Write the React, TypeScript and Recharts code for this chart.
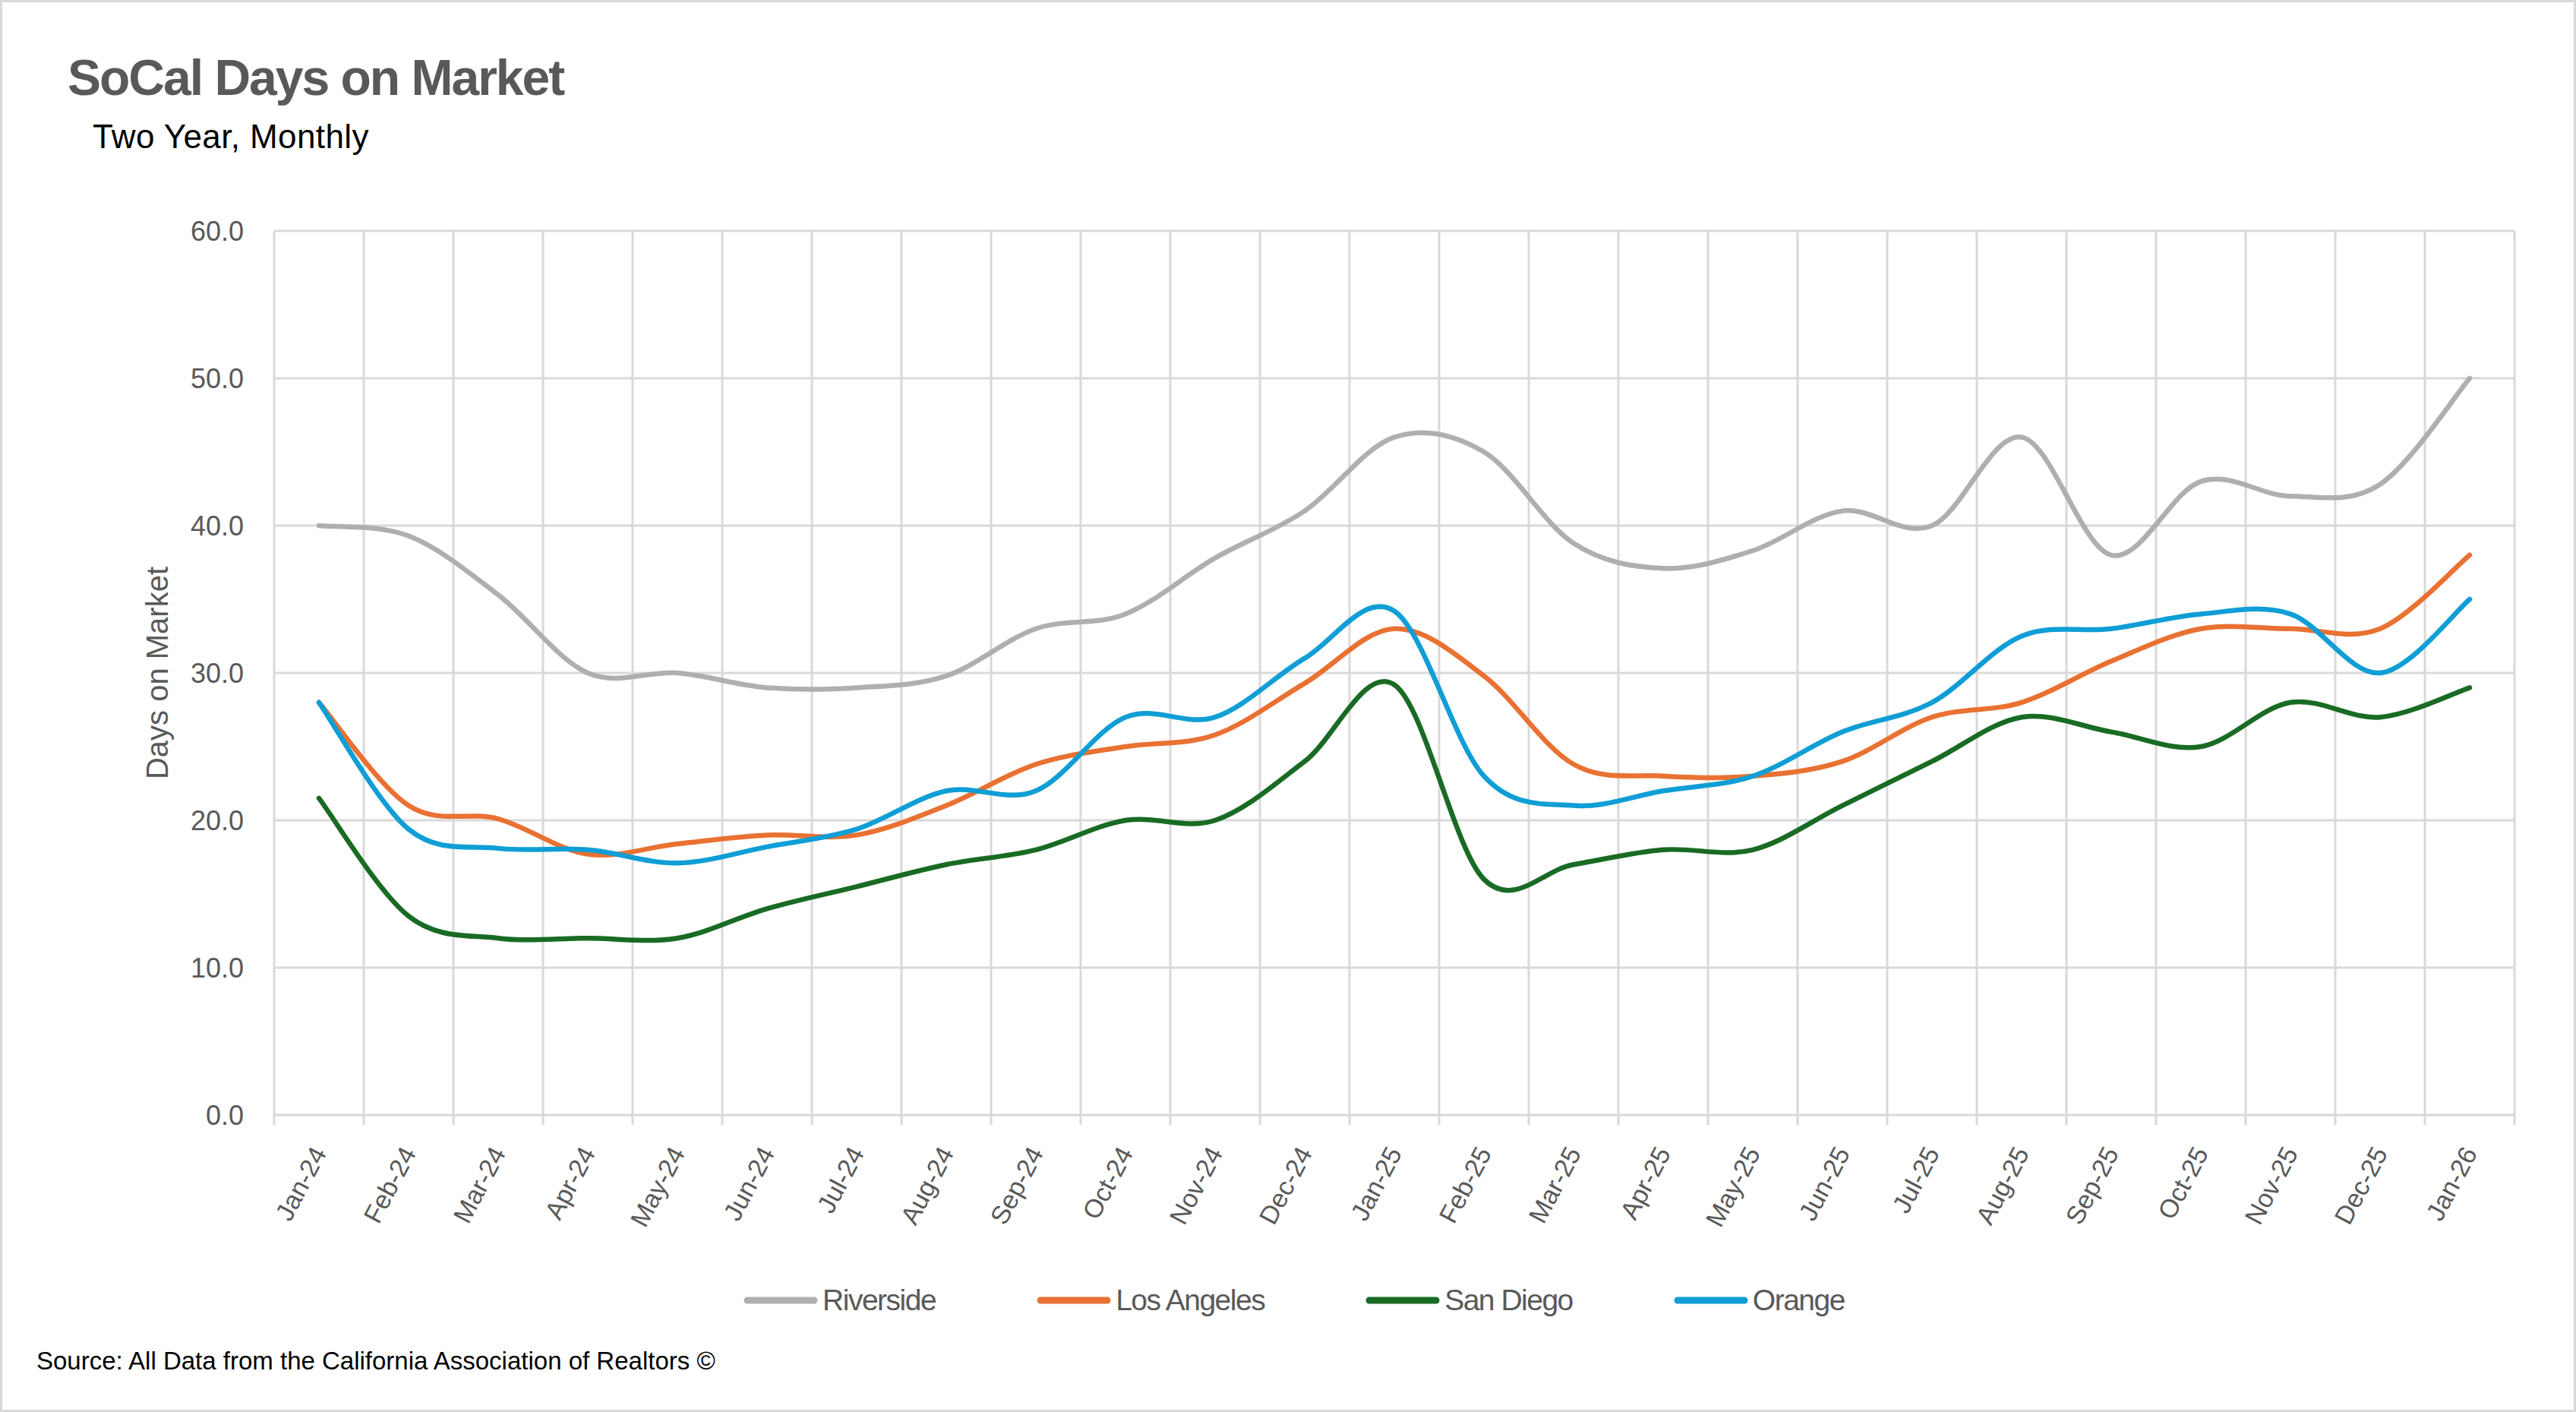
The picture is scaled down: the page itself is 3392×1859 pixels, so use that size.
import React from "react";
import { LineChart, Line, XAxis, YAxis, CartesianGrid, Legend } from "recharts";

const MONTHS = [
  "Jan-24", "Feb-24", "Mar-24", "Apr-24", "May-24", "Jun-24", "Jul-24", "Aug-24",
  "Sep-24", "Oct-24", "Nov-24", "Dec-24", "Jan-25", "Feb-25", "Mar-25", "Apr-25",
  "May-25", "Jun-25", "Jul-25", "Aug-25", "Sep-25", "Oct-25", "Nov-25", "Dec-25", "Jan-26",
];
const RIVERSIDE = [40, 39.3, 35.3, 30, 30, 29, 29, 29.8, 33, 34, 37.8, 41, 46, 45, 38.8, 37.1, 38.3, 41, 40, 46, 38, 43, 42, 42.8, 50];
const LOS_ANGELES = [28, 21, 20.1, 17.7, 18.4, 19, 19, 21, 23.8, 25, 25.8, 29.3, 33, 29.8, 23.8, 23, 23, 24, 27, 28, 30.8, 33, 33, 33, 38];
const SAN_DIEGO = [21.5, 13.5, 12, 12, 12, 14, 15.5, 17, 18, 20, 20, 24, 29.2, 16, 17, 18, 18, 21, 24, 27, 26, 25, 28, 27, 29];
const ORANGE = [28, 19.4, 18.1, 18, 17.1, 18.2, 19.4, 22, 22, 27, 27, 31, 34.2, 23, 21, 22, 23, 26, 28, 32.5, 33, 34, 34, 30, 35];
const Y_TICKS = [0, 10, 20, 30, 40, 50, 60];
const SERIES_ORDER = ["Riverside", "Los Angeles", "San Diego", "Orange"];

const data = MONTHS.map((month, i) => ({
  idx: i,
  month,
  riverside: RIVERSIDE[i],
  losAngeles: LOS_ANGELES[i],
  sanDiego: SAN_DIEGO[i],
  orange: ORANGE[i],
}));

// label ticks sit on the months, grid lines sit between them
const LABEL_TICKS = MONTHS.map((_, i) => i);
const GRID_TICKS = MONTHS.map((_, i) => i - 0.5).concat(MONTHS.length - 0.5);

const W = 3392;
const H = 1859;
const FONT = "'Liberation Sans', Arial, sans-serif";
const GREY_TEXT = "#595959";
const GRID = "#D9D9D9";

// Excel-style smoothed line (Catmull-Rom as cubic beziers)
function excelSmooth(context: any) {
  let pts: [number, number][] = [];
  return {
    areaStart() {},
    areaEnd() {},
    lineStart() {
      pts = [];
    },
    point(x: number, y: number) {
      pts.push([+x, +y]);
    },
    lineEnd() {
      const n = pts.length;
      if (!n) return;
      context.moveTo(pts[0][0], pts[0][1]);
      for (let i = 0; i < n - 1; i++) {
        const p0 = pts[Math.max(i - 1, 0)];
        const p1 = pts[i];
        const p2 = pts[i + 1];
        const p3 = pts[Math.min(i + 2, n - 1)];
        context.bezierCurveTo(
          p1[0] + (p2[0] - p0[0]) / 6,
          p1[1] + (p2[1] - p0[1]) / 6,
          p2[0] - (p3[0] - p1[0]) / 6,
          p2[1] - (p3[1] - p1[1]) / 6,
          p2[0],
          p2[1]
        );
      }
    },
  };
}

function MonthTick({ x, y, payload }: any) {
  const ax = x + 11;
  const ay = y + 49;
  return (
    <text
      x={ax}
      y={ay}
      transform={`rotate(-62, ${ax}, ${ay})`}
      textAnchor="end"
      fill={GREY_TEXT}
      fontSize={34}
      fontFamily={FONT}
    >
      {MONTHS[payload.value]}
    </text>
  );
}

function YTitle({ viewBox }: any) {
  const cx = viewBox.x + 207;
  const cy = viewBox.y + viewBox.height / 2;
  return (
    <text
      x={cx}
      y={cy}
      transform={`rotate(-90, ${cx}, ${cy})`}
      textAnchor="middle"
      dominantBaseline="central"
      fill={GREY_TEXT}
      fontSize={40}
      fontFamily={FONT}
    >
      Days on Market
    </text>
  );
}

function LegendContent({ payload }: any) {
  const items = [...(payload || [])].sort(
    (a: any, b: any) => SERIES_ORDER.indexOf(a.value) - SERIES_ORDER.indexOf(b.value)
  );
  return (
    <div style={{ display: "flex", justifyContent: "center", gap: 133, alignItems: "center", paddingLeft: 16 }}>
      {items.map((p: any) => (
        <div key={p.value} style={{ display: "flex", alignItems: "center" }}>
          <svg width={100} height={12} style={{ marginRight: 4 }}>
            <line x1={5} y1={6} x2={93} y2={6} stroke={p.color} strokeWidth={9} strokeLinecap="round" />
          </svg>
          <span style={{ fontFamily: FONT, fontSize: 39, color: GREY_TEXT, letterSpacing: -1.5 }}>{p.value}</span>
        </div>
      ))}
    </div>
  );
}

export default function App() {
  return (
    <div style={{ position: "relative", width: W, height: H, background: "#fff", overflow: "hidden" }}>
      <style>{`body{margin:0}`}</style>
      <div
        style={{
          position: "absolute",
          left: 89,
          top: 69,
          fontFamily: FONT,
          fontWeight: 700,
          fontSize: 66,
          lineHeight: "66px",
          letterSpacing: -2,
          color: GREY_TEXT,
          whiteSpace: "nowrap",
        }}
      >
        SoCal Days on Market
      </div>
      <div
        style={{
          position: "absolute",
          left: 122,
          top: 158,
          fontFamily: FONT,
          fontSize: 44,
          lineHeight: "44px",
          letterSpacing: 0.4,
          color: "#000",
          whiteSpace: "nowrap",
        }}
      >
        Two Year, Monthly
      </div>

      <div style={{ position: "absolute", left: 0, top: 0 }}>
        <LineChart width={W} height={H} data={data} margin={{ top: 304, right: 81, bottom: 389, left: 0 }}>
          <CartesianGrid xAxisId="grid" stroke={GRID} strokeWidth={3} />
          <XAxis
            xAxisId="grid"
            dataKey="idx"
            type="number"
            domain={[-0.5, MONTHS.length - 0.5]}
            ticks={GRID_TICKS}
            interval={0}
            height={1}
            axisLine={false}
            tickFormatter={() => ""}
            tickLine={{ stroke: GRID, strokeWidth: 3 }}
            tickSize={13}
          />
          <XAxis
            xAxisId="months"
            dataKey="idx"
            type="number"
            domain={[-0.5, MONTHS.length - 0.5]}
            ticks={LABEL_TICKS}
            interval={0}
            height={1}
            axisLine={false}
            tickLine={false}
            tickSize={0}
            tickMargin={0}
            tick={<MonthTick />}
          />
          <YAxis
            width={361}
            domain={[0, 60]}
            ticks={Y_TICKS}
            interval={0}
            axisLine={false}
            tickLine={false}
            tickSize={0}
            tickMargin={40}
            tickFormatter={(v: number) => v.toFixed(1)}
            tick={{ fill: GREY_TEXT, fontSize: 36, fontFamily: FONT }}
            label={<YTitle />}
          />
          <Legend
            verticalAlign="middle"
            layout="horizontal"
            content={<LegendContent />}
            wrapperStyle={{ position: "absolute", left: 0, top: 1690, width: W, height: 50 }}
          />
          <Line xAxisId="months" name="Riverside" dataKey="riverside" stroke="#AFAFAF" strokeWidth={6.5} type={excelSmooth as any} dot={false} activeDot={false} strokeLinecap="round" isAnimationActive={false} />
          <Line xAxisId="months" name="Los Angeles" dataKey="losAngeles" stroke="#E97132" strokeWidth={6.5} type={excelSmooth as any} dot={false} activeDot={false} strokeLinecap="round" isAnimationActive={false} />
          <Line xAxisId="months" name="San Diego" dataKey="sanDiego" stroke="#196B24" strokeWidth={6.5} type={excelSmooth as any} dot={false} activeDot={false} strokeLinecap="round" isAnimationActive={false} />
          <Line xAxisId="months" name="Orange" dataKey="orange" stroke="#0F9ED5" strokeWidth={6.5} type={excelSmooth as any} dot={false} activeDot={false} strokeLinecap="round" isAnimationActive={false} />
        </LineChart>
      </div>

      <div
        style={{
          position: "absolute",
          left: 48,
          top: 1775,
          fontFamily: FONT,
          fontSize: 33,
          lineHeight: "33px",
          color: "#000",
          whiteSpace: "nowrap",
        }}
      >
        Source: All Data from the California Association of Realtors ©
      </div>
      <div
        style={{
          position: "absolute",
          inset: 0,
          border: `3px solid ${GRID}`,
          pointerEvents: "none",
        }}
      />
    </div>
  );
}
